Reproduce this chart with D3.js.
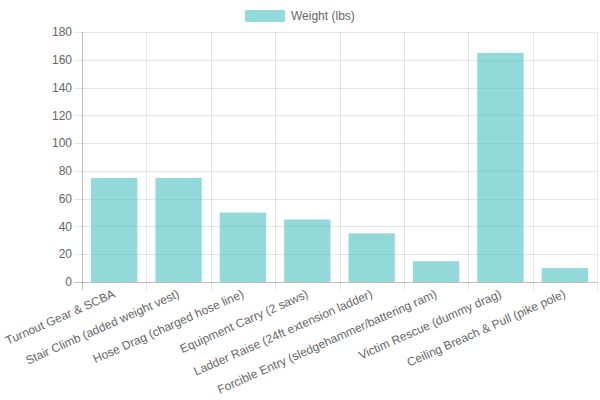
<!DOCTYPE html>
<html>
<head>
<meta charset="utf-8">
<script src="https://cdn.jsdelivr.net/npm/d3@7"></script>
<style>
  body { margin: 0; background: #fff; }
  text { font-family: "Liberation Sans", Arial, sans-serif; }
</style>
</head>
<body>
<svg id="chart" width="600" height="400"></svg>
<script>
// chart data
var categories = [
    "Turnout Gear & SCBA",
    "Stair Climb (added weight vest)",
    "Hose Drag (charged hose line)",
    "Equipment Carry (2 saws)",
    "Ladder Raise (24ft extension ladder)",
    "Forcible Entry (sledgehammer/battering ram)",
    "Victim Rescue (dummy drag)",
    "Ceiling Breach & Pull (pike pole)"
];
var weights = [75, 75, 50, 45, 35, 15, 165, 10];
var yTicks = [0, 20, 40, 60, 80, 100, 120, 140, 160, 180];
var seriesName = "Weight (lbs)";

// plot area edges
var plotLeft = 82, plotRight = 597, plotTop = 32, plotBottom = 282;
var barFill = "rgba(75,192,192,0.6)";
var gridColor = "rgba(0,0,0,0.1)";
var axisColor = "rgba(0,0,0,0.25)";
var textColor = "#666";

var svg = d3.select("#chart");

var x = d3.scaleBand()
    .domain(categories)
    .range([plotLeft, plotRight])
    .paddingInner(0)
    .paddingOuter(0);

var y = d3.scaleLinear()
    .domain([0, 180])
    .range([plotBottom, plotTop]);

// horizontal grid + y tick marks
svg.append("g")
    .selectAll("line")
    .data(yTicks)
    .enter()
    .append("line")
    .attr("x1", plotLeft - 8)
    .attr("x2", plotRight)
    .attr("y1", function(d) { return Math.round(y(d)) + 0.5; })
    .attr("y2", function(d) { return Math.round(y(d)) + 0.5; })
    .attr("stroke", function(d) { return d === 0 ? axisColor : gridColor; });

// vertical grid lines (category boundaries)
var bounds = categories.map(function(c) { return x(c); }).concat([plotRight]);
svg.append("g")
    .selectAll("line")
    .data(bounds)
    .enter()
    .append("line")
    .attr("x1", function(d) { return Math.round(d) + 0.5; })
    .attr("x2", function(d) { return Math.round(d) + 0.5; })
    .attr("y1", plotTop)
    .attr("y2", plotBottom + 8)
    .attr("stroke", function(d, i) { return i === 0 ? axisColor : gridColor; });

// y labels
svg.append("g")
    .selectAll("text")
    .data(yTicks)
    .enter()
    .append("text")
    .attr("x", plotLeft - 10)
    .attr("y", function(d) { return y(d); })
    .attr("dy", "0.35em")
    .attr("text-anchor", "end")
    .attr("font-size", 12)
    .attr("fill", textColor)
    .text(function(d) { return d; });

// bars
var barW = x.bandwidth() * 0.72;
svg.append("g")
    .selectAll("rect")
    .data(weights)
    .enter()
    .append("rect")
    .attr("x", function(d, i) { return x(categories[i]) + (x.bandwidth() - barW) / 2; })
    .attr("y", function(d) { return y(d); })
    .attr("width", barW)
    .attr("height", function(d) { return y(0) - y(d); })
    .attr("fill", barFill);

// x labels, rotated
svg.append("g")
    .selectAll("text")
    .data(categories)
    .enter()
    .append("text")
    .attr("transform", function(d) {
        var cx = x(d) + x.bandwidth() / 2;
        return "translate(" + cx + "," + (plotBottom + 11) + ") rotate(-24)";
    })
    .attr("dy", "0.35em")
    .attr("text-anchor", "end")
    .attr("font-size", 12)
    .attr("fill", textColor)
    .text(function(d) { return d; });

// legend
var legend = svg.append("g");
legend.append("rect")
    .attr("x", 245)
    .attr("y", 10)
    .attr("width", 40)
    .attr("height", 12)
    .attr("fill", barFill);
legend.append("text")
    .attr("x", 291)
    .attr("y", 16)
    .attr("dy", "0.35em")
    .attr("font-size", 12)
    .attr("fill", textColor)
    .text(seriesName);
</script>
</body>
</html>
